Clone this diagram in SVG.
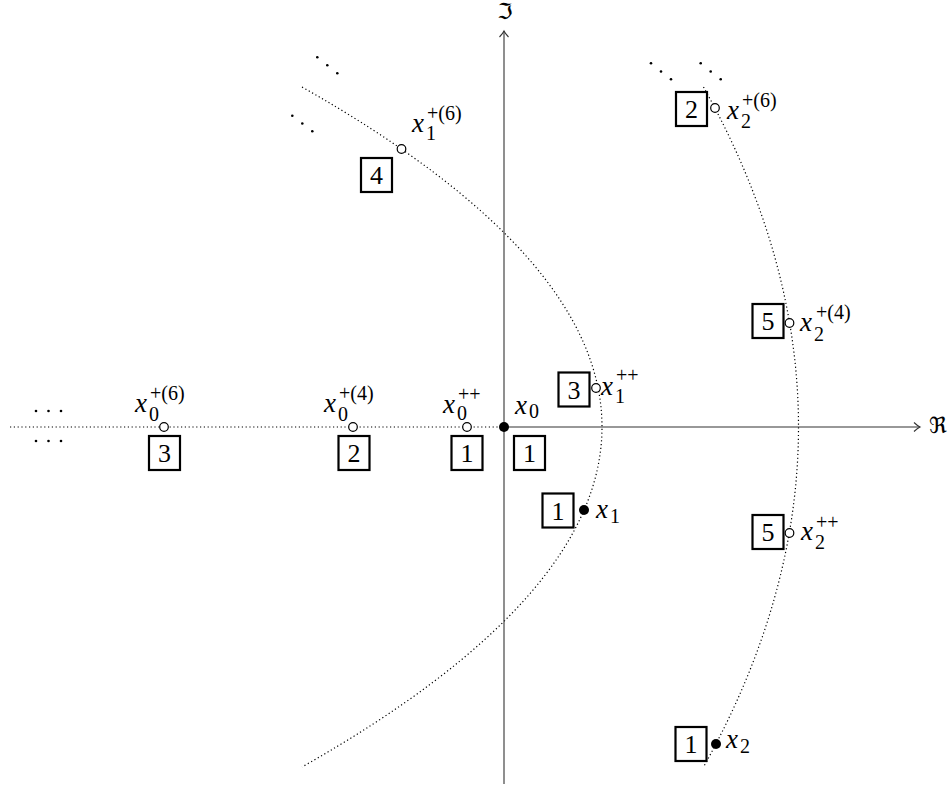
<svg xmlns="http://www.w3.org/2000/svg" width="952" height="787" viewBox="0 0 952 787">
<style>
text{font-family:"Liberation Serif","Times New Roman",serif}
.m{font-style:italic;font-size:27px;fill:#000}
.s{font-size:20px}
.u{font-style:normal}
.box rect{fill:#fff;stroke:#000;stroke-width:2.2}
.box text{font-size:26px;text-anchor:middle;fill:#000}
.axis{stroke:#333;stroke-width:1.1;fill:none}
.dot{fill:none;stroke:#000;stroke-width:1.2;stroke-dasharray:1.2 2.6}
.open{fill:#fff;stroke:#000;stroke-width:1.2}
.full{fill:#000}
.ell{fill:#000}
.fr{font-family:"DejaVu Serif","DejaVu Sans",serif;font-size:22px;fill:#000}
</style>
<defs>
<marker id="to" markerUnits="userSpaceOnUse" markerWidth="14" markerHeight="14" viewBox="-8 -7 10 14" refX="0" refY="0" orient="auto">
<path d="M -6 -4.5 Q -2.5 -1.2 0 0 Q -2.5 1.2 -6 4.5" fill="none" stroke="#333" stroke-width="1.1"/>
</marker>
</defs>
<g id="connectors">
<line class="dot" x1="10" y1="427" x2="504" y2="427"/>
<path class="dot" d="M 302 87 Q 902 427 302 767"/>
<path class="dot" d="M 703.5 87 Q 893.5 427 703.5 767"/>
<line class="axis" x1="504" y1="784" x2="504" y2="31" marker-end="url(#to)"/>
<line class="axis" x1="504" y1="427" x2="920" y2="427" marker-end="url(#to)"/>
</g>
<g id="axis-labels">
<text class="fr" x="505" y="19" text-anchor="middle">ℑ</text>
<text class="fr" x="929" y="433">ℜ</text>
</g>
<g id="ellipses">
<circle class="ell" cx="36" cy="411" r="1.3"/><circle class="ell" cx="48.5" cy="411" r="1.3"/><circle class="ell" cx="61" cy="411" r="1.3"/>
<circle class="ell" cx="36" cy="441" r="1.3"/><circle class="ell" cx="48.5" cy="441" r="1.3"/><circle class="ell" cx="61" cy="441" r="1.3"/>
<circle class="ell" cx="317.3" cy="57.3" r="1.3"/><circle class="ell" cx="327.3" cy="65.3" r="1.3"/><circle class="ell" cx="337.3" cy="73.3" r="1.3"/>
<circle class="ell" cx="292.3" cy="115.7" r="1.3"/><circle class="ell" cx="302.3" cy="123.5" r="1.3"/><circle class="ell" cx="312.3" cy="131.3" r="1.3"/>
<circle class="ell" cx="651" cy="63.3" r="1.3"/><circle class="ell" cx="661" cy="71.5" r="1.3"/><circle class="ell" cx="671" cy="79.3" r="1.3"/>
<circle class="ell" cx="700.7" cy="63.3" r="1.3"/><circle class="ell" cx="710.7" cy="71.5" r="1.3"/><circle class="ell" cx="720.7" cy="79.3" r="1.3"/>
</g>
<g id="x0">
<circle class="full" cx="504" cy="427" r="5"/>
<text class="m" x="515" y="414">x<tspan class="s u" x="529" y="418">0</tspan></text>
<g class="box"><rect x="514" y="436" width="31" height="34"/><text x="529.5" y="462">1</text></g>
</g>
<g id="x0pp">
<circle class="open" cx="467" cy="427" r="4.3"/>
<text class="m" x="443" y="413">x<tspan class="s u" x="457" y="420">0</tspan><tspan class="s u" x="458" y="401">++</tspan></text>
<g class="box"><rect x="451.5" y="436" width="31" height="34"/><text x="467" y="462">1</text></g>
</g>
<g id="x0p4">
<circle class="open" cx="353" cy="427" r="4.3"/>
<text class="m" x="324" y="412">x<tspan class="s u" x="338" y="421">0</tspan><tspan class="s u" x="339" y="400">+(4)</tspan></text>
<g class="box"><rect x="338.5" y="436" width="31" height="34"/><text x="354" y="462">2</text></g>
</g>
<g id="x0p6">
<circle class="open" cx="164" cy="427" r="4.3"/>
<text class="m" x="135" y="412">x<tspan class="s u" x="149" y="421">0</tspan><tspan class="s u" x="150" y="400">+(6)</tspan></text>
<g class="box"><rect x="149" y="436" width="31" height="34"/><text x="164.5" y="462">3</text></g>
</g>
<g id="x1">
<circle class="full" cx="584" cy="510" r="5"/>
<text class="m" x="596" y="518">x<tspan class="s u" x="610" y="523">1</tspan></text>
<g class="box"><rect x="542.5" y="493.5" width="31" height="34"/><text x="558" y="519.5">1</text></g>
</g>
<g id="x1pp">
<circle class="open" cx="596" cy="388" r="4.3"/>
<text class="m" x="601" y="395">x<tspan class="s u" x="615" y="403">1</tspan><tspan class="s u" x="616" y="382">++</tspan></text>
<g class="box"><rect x="558.5" y="372.5" width="31" height="34"/><text x="574" y="398.5">3</text></g>
</g>
<g id="x1p6">
<circle class="open" cx="401.5" cy="149" r="4.3"/>
<text class="m" x="412" y="132">x<tspan class="s u" x="426" y="140">1</tspan><tspan class="s u" x="427" y="120">+(6)</tspan></text>
<g class="box"><rect x="361" y="158" width="31" height="34"/><text x="376.5" y="184">4</text></g>
</g>
<g id="x2">
<circle class="full" cx="716" cy="744" r="5"/>
<text class="m" x="726" y="748">x<tspan class="s u" x="740" y="753">2</tspan></text>
<g class="box"><rect x="675.5" y="727" width="31" height="34"/><text x="691" y="753">1</text></g>
</g>
<g id="x2pp">
<circle class="open" cx="789.5" cy="533" r="4.3"/>
<text class="m" x="801" y="540">x<tspan class="s u" x="815" y="549">2</tspan><tspan class="s u" x="816" y="529">++</tspan></text>
<g class="box"><rect x="752.5" y="515" width="31" height="34"/><text x="768" y="541">5</text></g>
</g>
<g id="x2p4">
<circle class="open" cx="789.5" cy="323" r="4.3"/>
<text class="m" x="800" y="331">x<tspan class="s u" x="814" y="341">2</tspan><tspan class="s u" x="816" y="319">+(4)</tspan></text>
<g class="box"><rect x="752.5" y="304" width="31" height="34"/><text x="768" y="330">5</text></g>
</g>
<g id="x2p6">
<circle class="open" cx="715" cy="108" r="4.3"/>
<text class="m" x="727" y="119">x<tspan class="s u" x="741" y="128">2</tspan><tspan class="s u" x="742" y="107">+(6)</tspan></text>
<g class="box"><rect x="676" y="92" width="31" height="34"/><text x="691.5" y="118">2</text></g>
</g>
</svg>
